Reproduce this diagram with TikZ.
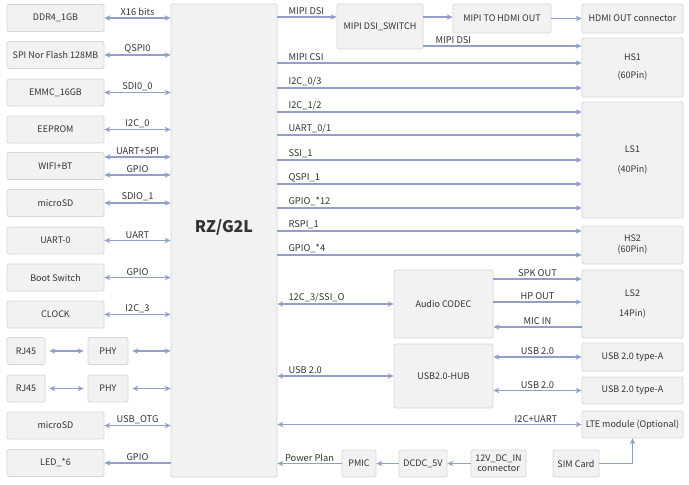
\documentclass[tikz,border=0pt]{standalone}
\usepackage{fontspec}
\setmainfont{Noto Sans CJK SC}
\usetikzlibrary{arrows.meta}
\definecolor{boxfill}{HTML}{F2F2F2}
\definecolor{boxline}{HTML}{D6D6D6}
\definecolor{arrcol}{HTML}{929FCB}
\definecolor{txt}{HTML}{333333}
\begin{document}
\begin{tikzpicture}[x=1pt,y=-1pt,
  blk/.style={draw=boxline, fill=boxfill, rounded corners=1.5pt, line width=0.8pt, text=txt,
    font=\fontsize{9}{11}\selectfont, inner sep=1pt, align=center},
  lbox/.style={blk, minimum width=97pt, minimum height=27pt},
  lbl/.style={font=\fontsize{9.3}{10}\selectfont, text=txt, inner sep=1.5pt},
  con/.style={draw=arrcol, line width=1.3pt},
  fw/.style={con, -{Stealth[length=6pt,width=5.5pt]}},
  bw/.style={con, {Stealth[length=6pt,width=5.5pt]}-{Stealth[length=6pt,width=5.5pt]}},
  ]
\useasboundingbox (0,0) rectangle (689,485);
% central chip
\node[blk, minimum width=106pt, minimum height=473pt] (rz) at (224,240.5) {};
\node[font=\fontsize{16}{19}\selectfont\bfseries, text=txt] (rzl) at (224,227) {RZ/G2L};
% left boxes
\node[lbox] (ddr) at (55.5,18) {DDR4\_1GB};
\node[lbox] (spi) at (55.5,55) {SPI Nor Flash 128MB};
\node[lbox] (emmc) at (55.5,92.5) {EMMC\_16GB};
\node[lbox] (eep) at (55.5,129.5) {EEPROM};
\node[lbox] (wifi) at (55.5,166) {WIFI+BT};
\node[lbox] (sd1) at (55.5,203) {microSD};
\node[lbox] (uart) at (55.5,240.5) {UART-0};
\node[lbox] (boot) at (55.5,277.5) {Boot Switch};
\node[lbox] (clk) at (55.5,314.5) {CLOCK};
\node[blk, minimum width=38pt, minimum height=27pt] (rja) at (26,351) {RJ45};
\node[blk, minimum width=40pt, minimum height=27pt] (phya) at (108,351) {PHY};
\node[blk, minimum width=38pt, minimum height=27pt] (rjb) at (26,388.5) {RJ45};
\node[blk, minimum width=40pt, minimum height=27pt] (phyb) at (108,388.5) {PHY};
\node[lbox] (sd2) at (55.5,425.5) {microSD};
\node[lbox] (led) at (55.5,463) {LED\_*6};
% left connectors
\draw[bw] (ddr.east) -- (ddr.east -| rz.west) node[lbl, midway, above] {X16 bits};
\draw[bw] (spi.east) -- (spi.east -| rz.west) node[lbl, midway, above] {QSPI0};
\draw[bw] (emmc.east) -- (emmc.east -| rz.west) node[lbl, midway, above] {SDI0\_0};
\draw[bw] (eep.east) -- (eep.east -| rz.west) node[lbl, midway, above] {I2C\_0};
\draw[bw] ([yshift=9pt]wifi.east) -- ([yshift=9pt]wifi.east -| rz.west) node[lbl, midway, above] {UART+SPI};
\draw[bw] ([yshift=-9pt]wifi.east) -- ([yshift=-9pt]wifi.east -| rz.west) node[lbl, midway, above] {GPIO};
\draw[bw] (sd1.east) -- (sd1.east -| rz.west) node[lbl, midway, above] {SDIO\_1};
\draw[bw] (uart.east) -- (uart.east -| rz.west) node[lbl, midway, above] {UART};
\draw[bw] (boot.east) -- (boot.east -| rz.west) node[lbl, midway, above] {GPIO};
\draw[bw] (clk.east) -- (clk.east -| rz.west) node[lbl, midway, above] {I2C\_3};
\draw[bw] ([xshift=4pt]rja.east) -- ([xshift=-4pt]phya.west);
\draw[bw] ([xshift=4pt]phya.east) -- (phya.east -| rz.west);
\draw[bw] ([xshift=4pt]rjb.east) -- ([xshift=-4pt]phyb.west);
\draw[bw] ([xshift=4pt]phyb.east) -- (phyb.east -| rz.west);
\draw[bw] (sd2.east) -- (sd2.east -| rz.west) node[lbl, midway, above] {USB\_OTG};
\draw[fw] (led.east -| rz.west) -- (led.east) node[lbl, midway, above] {GPIO};
% right boxes
\node[blk, minimum width=86pt, minimum height=45pt] (sw) at (380,26.5) {MIPI DSI\_SWITCH};
\node[blk, minimum width=98pt, minimum height=29pt] (m2h) at (502,18.5) {MIPI TO HDMI OUT};
\node[blk, minimum width=101pt, minimum height=29pt] (hdmi) at (632.5,18.5) {HDMI OUT connector};
\node[blk, minimum width=101pt, minimum height=59pt] (hs1) at (632.5,67.5) {HS1\\[7pt](60Pin)};
\node[blk, minimum width=101pt, minimum height=116pt] (ls1) at (632.5,160) {LS1\\[9pt](40Pin)};
\node[blk, minimum width=101pt, minimum height=38pt] (hs2) at (632.5,245) {HS2\\[0pt](60Pin)};
\node[blk, minimum width=101pt, minimum height=68pt] (ls2) at (632.5,304) {LS2\\[9pt]14Pin)};
\node[blk, minimum width=101pt, minimum height=28pt] (usba) at (632.5,357) {USB 2.0 type-A};
\node[blk, minimum width=101pt, minimum height=27pt] (usbb) at (632.5,390.5) {USB 2.0 type-A};
\node[blk, minimum width=101pt, minimum height=27pt] (lte) at (632.5,424.5) {LTE module (Optional)};
\node[blk, minimum width=99pt, minimum height=68pt] (codec) at (443.5,304) {Audio CODEC};
\node[blk, minimum width=99pt, minimum height=64pt] (hub) at (443.5,376) {USB2.0-HUB};
\node[blk, minimum width=46pt, minimum height=27pt] (sim) at (576,463.5) {SIM Card};
\node[blk, minimum width=55pt, minimum height=27pt, font=\fontsize{9}{10}\selectfont] (dc12) at (498.5,463.5) {12V\_DC\_IN\\connector};
\node[blk, minimum width=48pt, minimum height=27pt] (dcdc) at (423,463.5) {DCDC\_5V};
\node[blk, minimum width=34pt, minimum height=27pt] (pmic) at (359,463.5) {PMIC};
% right connectors
\draw[fw] (rz.east |- 0,17) -- (sw.west |- 0,17) node[lbl, pos=0, anchor=south west, xshift=9pt] {MIPI DSI};
\draw[fw] (sw.east |- 0,17) -- (m2h.west |- 0,17);
\draw[fw] (m2h.east) -- (hdmi.west);
\draw[fw] (sw.east |- 0,46) -- (hs1.west |- 0,46) node[lbl, pos=0, anchor=south west, xshift=10pt] {MIPI DSI};
\draw[fw] (rz.east |- 0,63) -- (hs1.west |- 0,63) node[lbl, pos=0, anchor=south west, xshift=9pt] {MIPI CSI};
\draw[fw] (rz.east |- 0,88) -- (hs1.west |- 0,88) node[lbl, pos=0, anchor=south west, xshift=9pt] {I2C\_0/3};
\draw[fw] (rz.east |- 0,112) -- (ls1.west |- 0,112) node[lbl, pos=0, anchor=south west, xshift=9pt] {I2C\_1/2};
\draw[fw] (rz.east |- 0,135) -- (ls1.west |- 0,135) node[lbl, pos=0, anchor=south west, xshift=9pt] {UART\_0/1};
\draw[fw] (rz.east |- 0,160) -- (ls1.west |- 0,160) node[lbl, pos=0, anchor=south west, xshift=9pt] {SSI\_1};
\draw[fw] (rz.east |- 0,184) -- (ls1.west |- 0,184) node[lbl, pos=0, anchor=south west, xshift=9pt] {QSPI\_1};
\draw[fw] (rz.east |- 0,208) -- (ls1.west |- 0,208) node[lbl, pos=0, anchor=south west, xshift=9pt] {GPIO\_*12};
\draw[fw] (rz.east |- 0,231) -- (hs2.west |- 0,231) node[lbl, pos=0, anchor=south west, xshift=9pt] {RSPI\_1};
\draw[fw] (rz.east |- 0,255) -- (hs2.west |- 0,255) node[lbl, pos=0, anchor=south west, xshift=9pt] {GPIO\_*4};
\draw[bw] (rz.east |- codec.west) -- (codec.west) node[lbl, pos=0, anchor=south west, xshift=9pt] {12C\_3/SSI\_O};
\draw[fw] (codec.east |- 0,279) -- (ls2.west |- 0,279) node[lbl, midway, above] {SPK OUT};
\draw[fw] (codec.east |- 0,302) -- (ls2.west |- 0,302) node[lbl, midway, above] {HP OUT};
\draw[fw] (ls2.west |- 0,327) -- (codec.east |- 0,327) node[lbl, midway, above] {MIC IN};
\draw[bw] (rz.east |- hub.west) -- (hub.west) node[lbl, pos=0, anchor=south west, xshift=9pt] {USB 2.0};
\draw[bw] (hub.east |- usba.west) -- (usba.west) node[lbl, midway, above] {USB 2.0};
\draw[bw] (hub.east |- usbb.west) -- (usbb.west) node[lbl, midway, above] {USB 2.0};
\draw[bw] (rz.east |- lte.west) -- (lte.west) node[lbl, pos=0.85, above] {I2C+UART};
\draw[fw] (pmic.west) -- (pmic.west -| rz.east) node[lbl, midway, above] {Power Plan};
\draw[fw] (dcdc.west) -- (pmic.east);
\draw[fw] (dc12.west) -- (dcdc.east);
\draw[fw] (sim.east) -| (lte.south);
\end{tikzpicture}
\end{document}
